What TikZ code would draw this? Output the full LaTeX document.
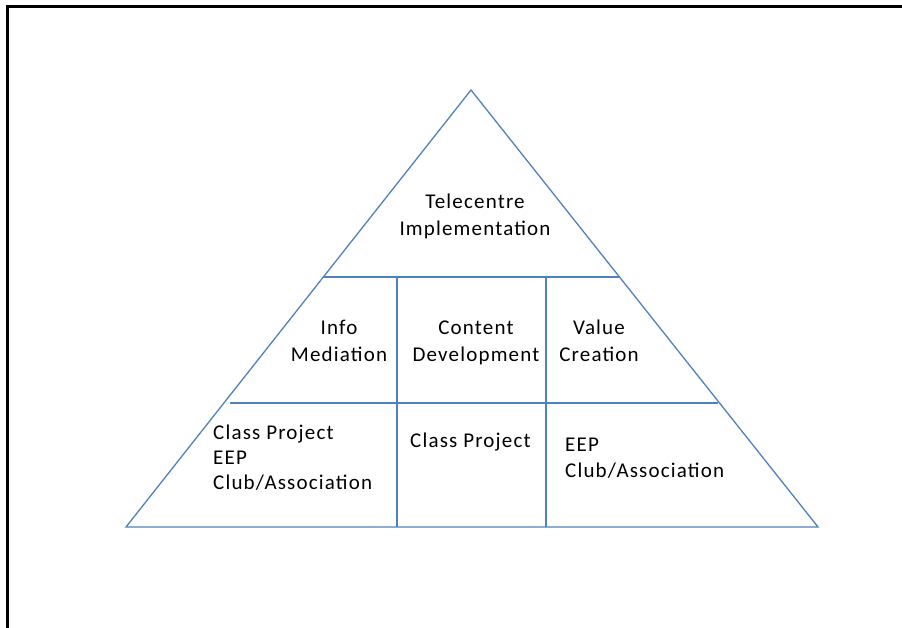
\documentclass[tikz,border=0pt]{standalone}
\usepackage{fontspec}
\setmainfont{Carlito}
\newfontfamily\tierfont[LetterSpace=5.6]{Carlito}
\begin{document}
\begin{tikzpicture}[x=1pt,y=-1pt,
  frameline/.style={line width=2.2pt,black},
  tierline/.style={line width=1.3pt,color=tierblue},
  label/.style={inner sep=0pt,font=\tierfont\fontsize{21}{27}\selectfont,text=black},
  cbox/.style={label,align=center,anchor=base},
  lbox/.style={label,align=left,anchor=base west}]
\definecolor{tierblue}{HTML}{4F81BD}
\useasboundingbox (0,0) rectangle (902,628);
% page frame: top and left edges only
\draw[frameline] (7.5,628) -- (7.5,6.5) -- (902,6.5);

% pyramid outline
\coordinate (apex) at (471,90);
\coordinate (bl) at (126,527);
\coordinate (br) at (818,527);
\draw[tierline,line join=miter] (bl) -- (apex) -- (br) -- cycle;

% tier dividers
\coordinate (t1l) at (323,277);
\coordinate (t1r) at (619,277);
\coordinate (t2l) at (230,403);
\coordinate (t2r) at (718,403);
\draw[tierline] (t1l) -- (t1r);
\draw[tierline] (t2l) -- (t2r);
\coordinate (v1t) at (397,277);
\coordinate (v1b) at (397,527);
\coordinate (v2t) at (546,277);
\coordinate (v2b) at (546,527);
\draw[tierline] (v1t) -- (v1b);
\draw[tierline] (v2t) -- (v2b);

% labels (anchored at the baseline of the last line)
\node[cbox] (top) at (475,236) {Telecentre\\Implementation};
\node[cbox] (info) at (339,361) {Info\\Mediation};
\node[cbox] (content) at (476,361) {Content\\Development};
\node[cbox] (value) at (599,361) {Value\\Creation};
\node[lbox,font=\tierfont\fontsize{21}{25}\selectfont] (left) at (213,489) {Class Project\\EEP\\Club/Association};
\node[lbox] (mid) at (410,447) {Class Project};
\node[lbox,font=\tierfont\fontsize{21}{26}\selectfont] (right) at (565,477) {EEP\\Club/Association};
\end{tikzpicture}
\end{document}
